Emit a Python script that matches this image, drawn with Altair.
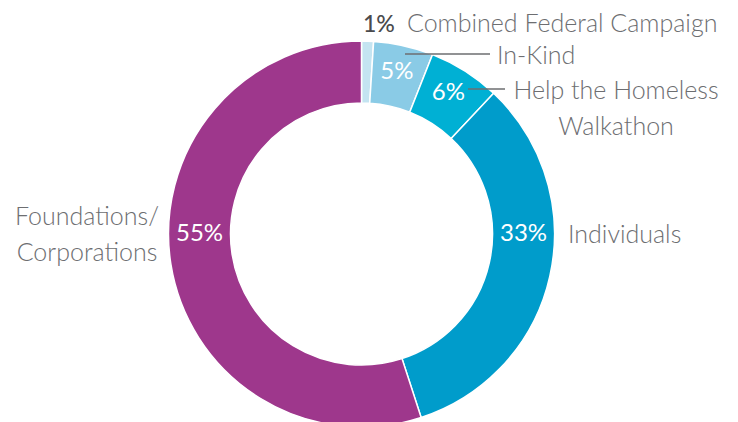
import math
import altair as alt
import pandas as pd

# ---- data ----
categories = ["Combined Federal Campaign", "In-Kind", "Help the Homeless Walkathon",
              "Individuals", "Foundations/Corporations"]
values = [1, 5, 6, 33, 55]
pct_labels = ["1%", "5%", "6%", "33%", "55%"]
colors = ["#c4e4f1", "#8acbe6", "#00b0d4", "#009ccb", "#9e378c"]
label_lines = [["Combined Federal Campaign"], ["In-Kind"], ["Help the Homeless", "Walkathon"],
               ["Individuals"], ["Foundations/", "Corporations"]]

df = pd.DataFrame({"category": categories, "value": values, "label": pct_labels,
                   "order": list(range(len(values)))})

# ---- layout ----
FONT = "Lato"
GRAY = "#6d6e71"
CX, CY = 353.5, 226
R_OUT, R_IN, R_LBL = 193, 131, 162
FS = 24
FS_LBL = 25
theta_scale = alt.Scale(domain=[0, 100], range=[0, 2 * math.pi])

base = alt.Chart(df)

arcs = base.mark_arc(outerRadius=R_OUT, innerRadius=R_IN, stroke="white", strokeWidth=1.5).encode(
    theta=alt.Theta("value:Q", stack=True, scale=theta_scale),
    order=alt.Order("order:Q"),
    color=alt.Color("category:N", scale=alt.Scale(domain=categories, range=colors), legend=None),
    x=alt.value(CX), y=alt.value(CY),
)

small_pct = base.transform_window(
    cum="sum(value)", sort=[alt.SortField("order")], frame=[None, 0]
).transform_calculate(mid="datum.cum - datum.value/2").transform_filter(
    "datum.value >= 5 && datum.value < 10"
).mark_text(radius=R_LBL, fontSize=FS, color="white", font=FONT, baseline="middle", dy=-4).encode(
    theta=alt.Theta("mid:Q", stack=False, scale=theta_scale),
    text="label:N",
    x=alt.value(CX), y=alt.value(CY),
)

def big_pct(cat, ang):
    return base.transform_filter(alt.datum.category == cat).mark_text(
        radius=R_LBL, fontSize=FS, color="white", font=FONT, baseline="middle"
    ).encode(theta=alt.value(ang), text="label:N", x=alt.value(CX), y=alt.value(CY))

def label(i, x, y, align="left", **kw):
    txt = label_lines[i] if len(label_lines[i]) > 1 else label_lines[i][0]
    return base.transform_filter(alt.datum.category == categories[i]).mark_text(
        text=txt, font=FONT, fontSize=FS_LBL, color=GRAY, align=align, baseline="alphabetic",
        fontWeight=300, lineHeight=36, **kw
    ).encode(x=alt.value(x), y=alt.value(y))

def leader(i, x1, x2, y):
    return base.transform_filter(alt.datum.category == categories[i]).mark_rule(
        color=GRAY, strokeWidth=1.5
    ).encode(x=alt.value(x1), x2=alt.value(x2), y=alt.value(y))

one_pct = base.transform_filter(alt.datum.category == categories[0]).mark_text(
    font=FONT, fontSize=23, color="#4a4a4c", align="left", baseline="alphabetic", fontWeight=500
).encode(text="label:N", x=alt.value(355), y=alt.value(24))

chart = alt.layer(
    arcs,
    small_pct,
    big_pct(categories[3], math.pi / 2),
    big_pct(categories[4], 3 * math.pi / 2),
    one_pct,
    label(0, 399, 24),
    leader(1, 397, 482, 46),
    label(1, 489, 56),
    leader(2, 460, 497, 81),
    label(2, 608, 91, align="center"),
    label(3, 560, 235),
    label(4, 79, 217, align="center"),
).properties(
    width=722, height=414, padding=0, autosize=alt.AutoSizeParams(type="none")
).configure_view(stroke=None)

chart.save("out.html", embed_options={"renderer": "svg", "actions": False})
